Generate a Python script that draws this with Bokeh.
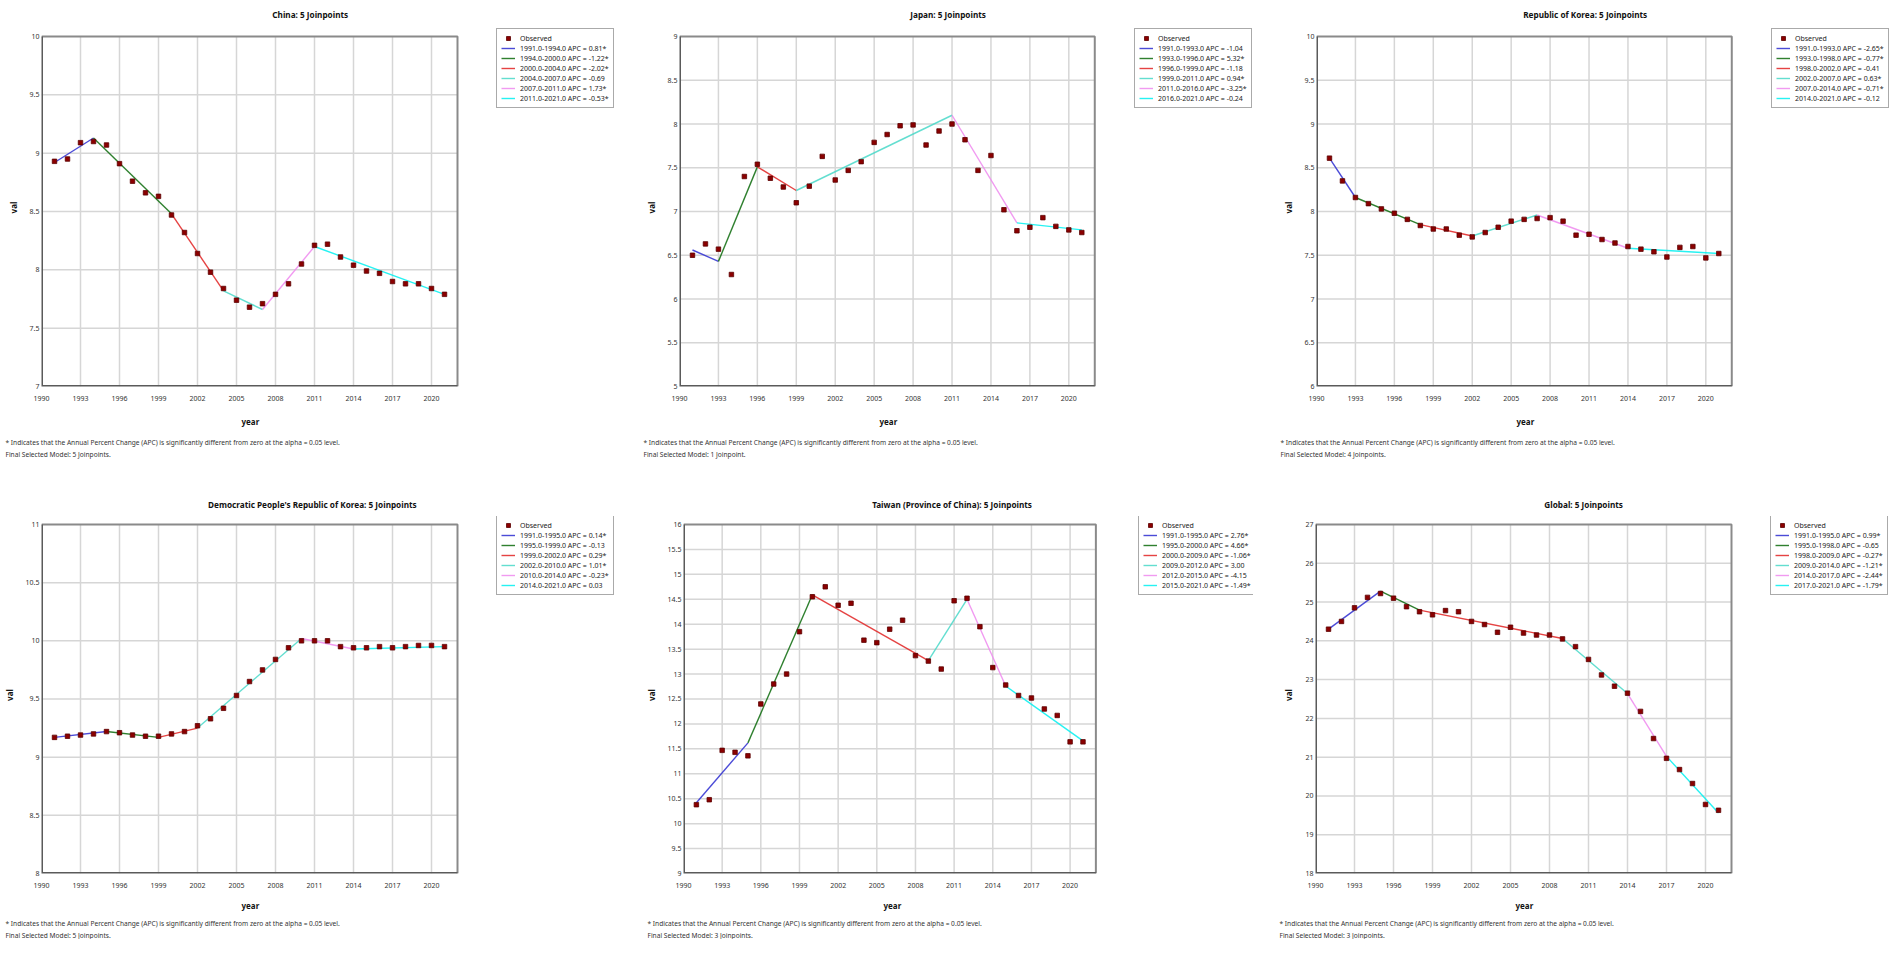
from bokeh.plotting import figure
from bokeh.models import Legend, LegendItem, Title, FixedTicker, CustomJSTickFormatter, Range1d
from bokeh.layouts import column, row
from bokeh.embed import file_html
from bokeh.resources import INLINE

# ---------------- data ----------------
years = list(range(1991, 2022))
x_ticks = [1990, 1993, 1996, 1999, 2002, 2005, 2008, 2011, 2014, 2017, 2020]

titles = ["China: 5 Joinpoints", "Japan: 5 Joinpoints", "Republic of Korea: 5 Joinpoints",
          "Democratic People's Republic of Korea: 5 Joinpoints",
          "Taiwan (Province of China): 5 Joinpoints", "Global: 5 Joinpoints"]

china_obs = [8.93, 8.95, 9.09, 9.10, 9.07, 8.91, 8.76, 8.66, 8.63, 8.47, 8.32, 8.14, 7.98, 7.84, 7.74, 7.68,
             7.71, 7.79, 7.88, 8.05, 8.21, 8.22, 8.11, 8.04, 7.99, 7.97, 7.90, 7.88, 7.88, 7.84, 7.79]
china_jp = [1991, 1994, 2000, 2004, 2007, 2011, 2021]
china_fit = [8.92, 9.13, 8.48, 7.82, 7.66, 8.20, 7.79]
china_labels = ["1991.0-1994.0 APC = 0.81*", "1994.0-2000.0 APC = -1.22*", "2000.0-2004.0 APC = -2.02*",
                "2004.0-2007.0 APC = -0.69", "2007.0-2011.0 APC = 1.73*", "2011.0-2021.0 APC = -0.53*"]
china_yticks = [7, 7.5, 8, 8.5, 9, 9.5, 10]

japan_obs = [6.50, 6.63, 6.57, 6.28, 7.40, 7.54, 7.38, 7.28, 7.10, 7.29, 7.63, 7.36, 7.47, 7.57, 7.79, 7.88,
             7.98, 7.99, 7.76, 7.92, 8.00, 7.82, 7.47, 7.64, 7.02, 6.78, 6.82, 6.93, 6.83, 6.79, 6.76]
japan_jp = [1991, 1993, 1996, 1999, 2011, 2016, 2021]
japan_fit = [6.56, 6.43, 7.51, 7.24, 8.10, 6.87, 6.79]
japan_labels = ["1991.0-1993.0 APC = -1.04", "1993.0-1996.0 APC = 5.32*", "1996.0-1999.0 APC = -1.18",
                "1999.0-2011.0 APC = 0.94*", "2011.0-2016.0 APC = -3.25*", "2016.0-2021.0 APC = -0.24"]
japan_yticks = [5, 5.5, 6, 6.5, 7, 7.5, 8, 8.5, 9]

korea_obs = [8.61, 8.35, 8.16, 8.09, 8.03, 7.98, 7.91, 7.84, 7.80, 7.80, 7.73, 7.71, 7.76, 7.82, 7.89, 7.91,
             7.92, 7.93, 7.89, 7.73, 7.74, 7.68, 7.64, 7.60, 7.57, 7.54, 7.48, 7.59, 7.60, 7.47, 7.52]
korea_jp = [1991, 1993, 1998, 2002, 2007, 2014, 2021]
korea_fit = [8.61, 8.16, 7.85, 7.72, 7.96, 7.58, 7.52]
korea_labels = ["1991.0-1993.0 APC = -2.65*", "1993.0-1998.0 APC = -0.77*", "1998.0-2002.0 APC = -0.41",
                "2002.0-2007.0 APC = 0.63*", "2007.0-2014.0 APC = -0.71*", "2014.0-2021.0 APC = -0.12"]
korea_yticks = [6, 6.5, 7, 7.5, 8, 8.5, 9, 9.5, 10]

dprk_obs = [9.17, 9.18, 9.19, 9.20, 9.22, 9.21, 9.19, 9.18, 9.18, 9.20, 9.22, 9.27, 9.33, 9.42, 9.53, 9.65,
            9.75, 9.84, 9.94, 10.00, 10.00, 10.00, 9.95, 9.94, 9.94, 9.95, 9.94, 9.95, 9.96, 9.96, 9.95]
dprk_jp = [1991, 1995, 1999, 2002, 2010, 2014, 2021]
dprk_fit = [9.17, 9.22, 9.17, 9.25, 10.02, 9.93, 9.95]
dprk_labels = ["1991.0-1995.0 APC = 0.14*", "1995.0-1999.0 APC = -0.13", "1999.0-2002.0 APC = 0.29*",
               "2002.0-2010.0 APC = 1.01*", "2010.0-2014.0 APC = -0.23*", "2014.0-2021.0 APC = 0.03"]
dprk_yticks = [8, 8.5, 9, 9.5, 10, 10.5, 11]

taiwan_obs = [10.38, 10.48, 11.47, 11.43, 11.36, 12.40, 12.80, 13.00, 13.85, 14.55, 14.75, 14.38, 14.42,
              13.68, 13.63, 13.90, 14.08, 13.37, 13.26, 13.10, 14.47, 14.52, 13.95, 13.13, 12.78, 12.57,
              12.52, 12.30, 12.17, 11.64, 11.64]
taiwan_jp = [1991, 1995, 2000, 2009, 2012, 2015, 2021]
taiwan_fit = [10.42, 11.62, 14.59, 13.27, 14.50, 12.76, 11.66]
taiwan_labels = ["1991.0-1995.0 APC = 2.76*", "1995.0-2000.0 APC = 4.66*", "2000.0-2009.0 APC = -1.06*",
                 "2009.0-2012.0 APC = 3.00", "2012.0-2015.0 APC = -4.15", "2015.0-2021.0 APC = -1.49*"]
taiwan_yticks = [9, 9.5, 10, 10.5, 11, 11.5, 12, 12.5, 13, 13.5, 14, 14.5, 15, 15.5, 16]

global_obs = [24.30, 24.50, 24.85, 25.12, 25.22, 25.10, 24.88, 24.75, 24.67, 24.78, 24.75, 24.50, 24.42,
              24.22, 24.35, 24.20, 24.15, 24.15, 24.05, 23.85, 23.52, 23.12, 22.83, 22.65, 22.18, 21.48,
              20.97, 20.68, 20.32, 19.78, 19.63]
global_jp = [1991, 1995, 1998, 2009, 2014, 2017, 2021]
global_fit = [24.30, 25.28, 24.79, 24.06, 22.64, 21.02, 19.56]
global_labels = ["1991.0-1995.0 APC = 0.99*", "1995.0-1998.0 APC = -0.65", "1998.0-2009.0 APC = -0.27*",
                 "2009.0-2014.0 APC = -1.21*", "2014.0-2017.0 APC = -2.44*", "2017.0-2021.0 APC = -1.79*"]
global_yticks = [18, 19, 20, 21, 22, 23, 24, 25, 26, 27]

note_text = "* Indicates that the Annual Percent Change (APC) is significantly different from zero at the alpha = 0.05 level."
model_texts = ["Final Selected Model: 5 Joinpoints.", "Final Selected Model: 1 Joinpoint.",
               "Final Selected Model: 4 Joinpoints.", "Final Selected Model: 5 Joinpoints.",
               "Final Selected Model: 3 Joinpoints.", "Final Selected Model: 3 Joinpoints."]

# ---------------- styles / geometry ----------------
SEG_COLORS = ["#2b2bd0", "#0a6a0a", "#e02222", "#48d8c8", "#ee88ee", "#00f0f0"]
FONT = "Noto Sans"
X_MIN, X_MAX = 1990, 2022          # visible plot box
PX_PER_YEAR = 13.0                 # 416 px box for 32 years
BOX_H = 350                        # visible plot box height
EXT_W, EXT_TOP = 575, 8            # drawing area also holds the key (to the right, 8 px above)
TITLE_SIZE = 8.2
TITLE_CENTER = 269                 # title centre, px right of the box's left edge
YEAR_CENTER = 209                  # "year" centre, px right of the box's left edge


def make_panel(title, obs, jp, fit, labels, yticks, model_txt, width, height, left, top, bottom,
               title_gap, year_gap, note_gap):
    ylo, yhi = yticks[0], yticks[-1]
    x_end = X_MIN + EXT_W / PX_PER_YEAR
    y_end = yhi + (yhi - ylo) * EXT_TOP / BOX_H
    p = figure(width=width, height=height, output_backend="svg", toolbar_location=None,
               x_range=Range1d(X_MIN, x_end), y_range=Range1d(ylo, y_end),
               min_border_left=left, min_border_right=width - left - EXT_W,
               min_border_top=top, min_border_bottom=bottom,
               background_fill_color="white", border_fill_color="white")
    est_w = len(title) * 0.49 * TITLE_SIZE
    p.title.text = title
    p.title.align = "left"
    p.title.offset = TITLE_CENTER - est_w / 2
    p.title.vertical_align = "top"
    p.title.text_font = FONT
    p.title.text_font_size = f"{TITLE_SIZE}px"
    p.title.text_font_style = "bold"
    p.title.text_color = "#111111"
    p.title.standoff = title_gap

    p.outline_line_color = None
    p.grid.visible = False

    p.xaxis.ticker = FixedTicker(ticks=x_ticks)
    p.yaxis.ticker = FixedTicker(ticks=yticks)
    p.yaxis.formatter = CustomJSTickFormatter(code="return tick.toString();")
    for ax in (p.xaxis[0], p.yaxis[0]):
        ax.axis_line_color = None
        ax.major_tick_line_color = None
        ax.minor_tick_line_color = None
        ax.major_tick_out = 0
        ax.major_tick_in = 0
        ax.major_label_text_font = FONT
        ax.major_label_text_font_size = "7px"
        ax.major_label_text_color = "#333333"
        ax.axis_label_text_font = FONT
        ax.axis_label_text_font_size = "8px"
        ax.axis_label_text_font_style = "bold"
        ax.axis_label_text_color = "#111111"
    p.xaxis.major_label_standoff = 9
    p.yaxis.axis_label = "val"
    p.yaxis.major_label_standoff = 2
    p.yaxis.axis_label_standoff = 8

    # grid and box of the visible plot area
    grid_kw = dict(line_color="#d6d6d6", line_width=1.5)
    p.segment(x0=x_ticks[1:], y0=ylo, x1=x_ticks[1:], y1=yhi, **grid_kw)
    p.segment(x0=X_MIN, y0=yticks[1:-1], x1=X_MAX, y1=yticks[1:-1], **grid_kw)
    p.line(x=[X_MIN, X_MAX, X_MAX], y=[yhi, yhi, ylo], line_color="#8a8a8a", line_width=2)
    p.line(x=[X_MIN, X_MIN, X_MAX], y=[yhi, ylo, ylo], line_color="#5a5a5a", line_width=3)

    seg_renderers = []
    for i in range(len(jp) - 1):
        r = p.line(x=jp[i:i + 2], y=fit[i:i + 2], line_color=SEG_COLORS[i], line_width=1.4, line_alpha=0.85)
        seg_renderers.append(r)
    sc = p.scatter(x=years, y=obs, marker="square", size=4.5, fill_color="#8b0000", line_color="#5c0000",
                   line_width=0.8)

    items = [LegendItem(label="Observed", renderers=[sc])]
    items += [LegendItem(label=lab, renderers=[r]) for lab, r in zip(labels, seg_renderers)]
    legend = Legend(items=items, location=(455, BOX_H + EXT_TOP - 80), margin=0, padding=4, spacing=0,
                    glyph_width=14, glyph_height=10, label_height=10, label_standoff=5,
                    label_text_font=FONT, label_text_font_size="7px", label_text_color="#222222",
                    border_line_color="#555555", border_line_width=1, background_fill_color="white",
                    background_fill_alpha=1)
    p.add_layout(legend)

    p.add_layout(Title(text="year", align="left", offset=YEAR_CENTER - 9, text_font=FONT,
                       text_font_size="8px", text_font_style="bold", text_color="#111111",
                       standoff=year_gap), "below")
    p.add_layout(Title(text=note_text + "\n" + model_txt, align="left", text_font=FONT,
                       text_font_size="6.6px", text_line_height=1.25, text_font_style="normal",
                       text_color="#333333", offset=-36, standoff=note_gap), "below")
    return p


data = [
    (china_obs, china_jp, china_fit, china_labels, china_yticks),
    (japan_obs, japan_jp, japan_fit, japan_labels, japan_yticks),
    (korea_obs, korea_jp, korea_fit, korea_labels, korea_yticks),
    (dprk_obs, dprk_jp, dprk_fit, dprk_labels, dprk_yticks),
    (taiwan_obs, taiwan_jp, taiwan_fit, taiwan_labels, taiwan_yticks),
    (global_obs, global_jp, global_fit, global_labels, global_yticks),
]
widths = [642, 637, 611]
lefts = [41, 36, 36]
figs = []
for k, (obs, jp, fit, labels, yt) in enumerate(data):
    rr = k // 3
    c = k % 3
    if rr == 0:
        h, top, tgap, ygap, ngap = 492, 28, 14, 20, 0
    else:
        h, top, tgap, ygap, ngap = 447, 24, 10, 14, 0
    bottom = h - top - BOX_H - EXT_TOP
    figs.append(make_panel(titles[k], obs, jp, fit, labels, yt, model_texts[k], widths[c], h,
                           lefts[c], top, bottom, tgap, ygap, ngap))

layout = column(row(figs[0], figs[1], figs[2]), row(figs[3], figs[4], figs[5]))
open("out.html", "w").write(file_html(layout, INLINE))
